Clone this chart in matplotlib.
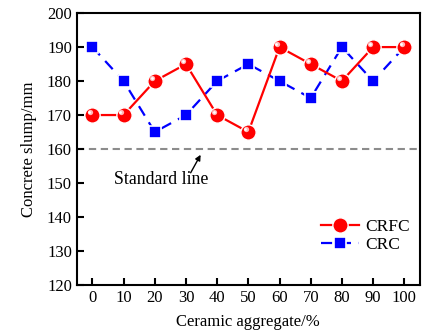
import matplotlib
matplotlib.use("Agg")
import matplotlib.pyplot as plt
from matplotlib.transforms import offset_copy

plt.rcParams['font.family'] = ['Liberation Serif', 'DejaVu Serif']

aggregate = [0, 10, 20, 30, 40, 50, 60, 70, 80, 90, 100]
crfc = [170, 170, 180, 185, 170, 165, 190, 185, 180, 190, 190]
crc = [190, 180, 165, 170, 180, 185, 180, 175, 190, 180, 190]
standard = 160

fig = plt.figure(figsize=(4.22, 3.36), dpi=100)
ax = fig.add_axes([0.182, 0.152, 0.813, 0.809])

ax.axhline(standard, color="#8c8c8c", lw=1.5, ls=(0, (3.5, 2.2)), zorder=1)

ax.plot(aggregate, crc, color="blue", lw=1.6, ls=(0, (5, 3.5)),
        marker="s", ms=8, mfc="blue", mec="white", mew=1.2, label="CRC", zorder=2)
ax.plot(aggregate, crfc, color="red", lw=1.6,
        marker="o", ms=11, mfc="red", mec="white", mew=1.0, label="CRFC", zorder=3)
# highlight on the balls
hl = offset_copy(ax.transData, fig=fig, x=-2.0, y=2.0, units="points")
ax.plot(aggregate, crfc, ls="none", marker="o", ms=3.8, mfc="#ffb8b8", mec="none",
        transform=hl, zorder=4)
hl2 = offset_copy(ax.transData, fig=fig, x=-2.3, y=2.3, units="points")
ax.plot(aggregate, crfc, ls="none", marker="o", ms=2.0, mfc="white", mec="none",
        transform=hl2, zorder=5)

ax.annotate("", xy=(34.7, 158.3), xytext=(31.5, 153.0),
            arrowprops=dict(arrowstyle="-|>", color="black", lw=1.0,
                            mutation_scale=8, shrinkA=0, shrinkB=0))
ax.text(21.9, 150.9, "Standard line", ha="center", va="center", fontsize=12.8)

ax.set_xlim(-5, 105)
ax.set_ylim(120, 200)
ax.set_xticks(aggregate)
ax.set_yticks(range(120, 201, 10))
ax.tick_params(direction="in", length=5, width=1.5, labelsize=12)
for s in ax.spines.values():
    s.set_linewidth(1.5)

ax.set_xlabel("Ceramic aggregate/%", fontsize=12, labelpad=6)
ax.set_ylabel("Concrete slump/mm", fontsize=12, labelpad=7)

h, l = ax.get_legend_handles_labels()
leg = ax.legend(h[::-1], l[::-1], loc="center left", bbox_to_anchor=(0.665, 0.18),
                frameon=False, fontsize=12.5, handlelength=2.2, handletextpad=0.4,
                labelspacing=0.1)

fig.savefig("out.png", dpi=100)
